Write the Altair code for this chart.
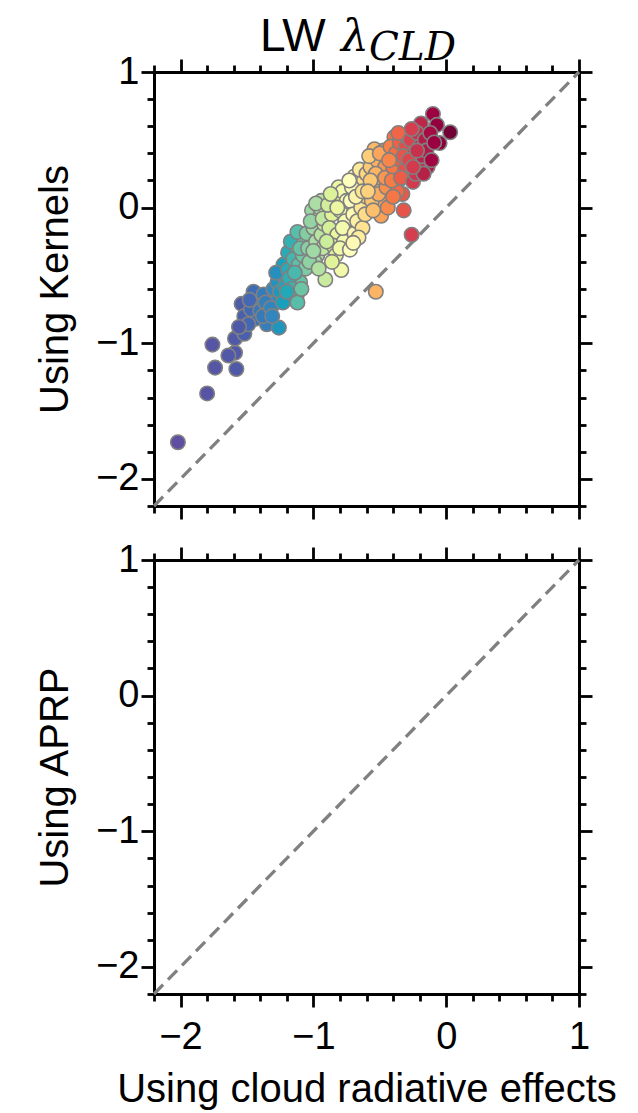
import altair as alt
import pandas as pd

# ---- data (LW lambda_CLD, top panel) ----
kern_x = [
    -2.02, -1.80, -1.74, -1.76, -1.58, -1.59, -1.64, -1.59, -1.52, -1.54, -1.52, -1.45, -1.44, -1.41, -1.47, -1.49, -1.48, -1.56,
    -1.375, -1.40, -1.35, -1.26, -1.29, -1.36, -1.38, -1.32, -1.30, -1.27, -1.225, -1.22, -1.25, -1.23, -1.28, -1.213, -1.31,
    -1.19, -1.19, -1.126, -1.12, -1.10, -1.18, -1.16, -1.15, -1.13, -1.17, -1.11, -1.08, -1.09, -1.07, -1.12, -1.06,
    -1.14, -1.20, -1.10,
    -1.05, -1.01, -1.04, -1.00, -0.98, -0.96, -0.97, -0.94, -0.95, -0.92, -0.99, -0.93, -0.91, -1.02, -0.94, -0.98,
    -1.03, -0.96, -1.00, -0.93,
    -0.81, -0.79, -0.86, -0.88, -0.84, -0.82, -0.80, -0.78, -0.76, -0.85, -0.77, -0.89, -0.83, -0.75, -0.87, -0.80,
    -0.86, -0.82, -0.78, -0.90,
    -0.69, -0.725, -0.69, -0.72, -0.70, -0.66, -0.64, -0.67, -0.62, -0.60, -0.65, -0.63, -0.71, -0.61, -0.68, -0.60,
    -0.66, -0.73, -0.63, -0.70,
    -0.54, -0.49, -0.53, -0.57, -0.55, -0.52, -0.50, -0.48, -0.56, -0.58, -0.46, -0.51, -0.47, -0.45, -0.53, -0.44, -0.57,
    -0.50, -0.55, -0.46, -0.59,
    -0.39, -0.32, -0.26, -0.42, -0.40, -0.38, -0.36, -0.35, -0.34, -0.33, -0.31, -0.30, -0.37, -0.41, -0.43, -0.29,
    -0.36, -0.32, -0.40, -0.34,
    -0.25, -0.19, -0.14, -0.27, -0.24, -0.22, -0.21, -0.20, -0.18, -0.16, -0.23, -0.28, -0.26, -0.17, -0.15,
    -0.22, -0.25,
    -0.10, -0.07, 0.03, -0.05, -0.12, -0.11, -0.09,
]
kern_y = [
    -1.73, -1.37, -1.18, -1.01, -1.19, -1.07, -1.09, -0.965, -0.93, -0.71, -0.80, -0.62, -0.82, -0.71, -0.75, -0.86, -0.68, -0.88,
    -0.64, -0.76, -0.86, -0.885, -0.70, -0.70, -0.80, -0.74, -0.60, -0.55, -0.42, -0.50, -0.62, -0.70, -0.48, -0.58, -0.80,
    -0.33, -0.456, -0.65, -0.70, -0.55, -0.52, -0.60, -0.38, -0.28, -0.25, -0.42, -0.35, -0.60, -0.25, -0.18, -0.45,
    -0.48, -0.62, -0.30,
    -0.19, -0.02, -0.30, -0.15, -0.25, -0.08, -0.35, -0.20, 0.00, -0.12, -0.40, -0.30, -0.53, -0.10, 0.05, 0.03,
    -0.40, -0.45, -0.32, -0.08,
    0.15, -0.46, -0.05, -0.15, 0.08, -0.20, -0.02, 0.12, -0.10, -0.28, -0.25, 0.02, -0.35, 0.05, 0.10, -0.30,
    -0.40, 0.00, -0.15, -0.25,
    0.23, -0.31, -0.19, 0.05, -0.05, 0.15, 0.00, -0.10, 0.20, 0.08, 0.28, -0.15, 0.15, -0.05, 0.08, 0.25,
    -0.22, 0.20, 0.12, -0.26,
    0.43, -0.06, -0.62, 0.30, 0.15, 0.35, 0.22, 0.05, 0.05, 0.38, 0.30, 0.10, 0.42, 0.15, 0.25, 0.00, 0.20,
    0.40, -0.02, 0.22, 0.12,
    0.52, -0.02, -0.20, 0.45, 0.30, 0.40, 0.20, 0.48, 0.35, 0.10, 0.28, 0.45, 0.12, 0.20, 0.35, 0.52,
    0.55, 0.38, 0.08, 0.22,
    0.19, 0.62, 0.30, 0.50, 0.40, 0.55, 0.30, 0.45, 0.38, 0.50, 0.25, 0.35, 0.58, 0.25, 0.42,
    0.42, 0.30,
    0.69, 0.61, 0.556, 0.476, 0.55, 0.35, 0.48,
]
diag_vals = [-2.2, 1.0]
axis_domain = [-2.2, 1.0]
tick_vals = [-2.2, -2.0, -1.8, -1.6, -1.4, -1.2, -1.0, -0.8, -0.6, -0.4, -0.2,
             0.0, 0.2, 0.4, 0.6, 0.8, 1.0]
# colour of the points, against their x value
color_breaks = [-2.0, -1.55, -1.3, -1.1, -0.98, -0.85, -0.72, -0.62, -0.52, -0.38, -0.26, -0.1]
color_range = ["#5e4fa2", "#4e5aa8", "#3288bd", "#66c2a5", "#abdda4", "#e6f598",
               "#ffffbf", "#fee08b", "#fdae61", "#f46d43", "#d53e4f", "#9e0142"]
panel_titles = ["Using Kernels", "Using APRP"]
x_title = "Using cloud radiative effects"
title_parts = ["LW", "λ", "CLD"]

FONT = "Liberation Sans"
MAJOR = "abs(datum.value - round(datum.value)) < 0.001"
W, H = 425, 434


def make_axis(orient, show_labels, title=None):
    is_x = orient in ("top", "bottom")
    return alt.Axis(
        orient=orient, values=tick_vals, grid=False,
        domain=True, domainColor="black", domainWidth=3,
        ticks=True, tickColor="black", tickWidth=2.8,
        tickSize={"condition": {"test": MAJOR, "value": 13}, "value": 7},
        labels=show_labels, labelFlush=False, labelOverlap=False,
        labelFont=FONT, labelFontSize=38, labelColor="black",
        labelPadding=11 if is_x else 2, format=".0f",
        labelExpr=f"{MAJOR} ? datum.label : ''",
        title=title, titleFont=FONT, titleFontSize=40,
        titleFontWeight="normal", titleColor="black",
        titlePadding=13 if is_x else 20,
    )


def sc():
    return alt.Scale(domain=axis_domain, nice=False, zero=False)


kern_df = pd.DataFrame({"x": kern_x, "y": kern_y})
diag_df = pd.DataFrame({"d": diag_vals})


def diag_line(xo, yo, xl, yl, xt=None, yt=None, opacity=1.0):
    return alt.Chart(diag_df).mark_line(
        color="#808080", strokeWidth=3.3, strokeDash=[13, 7], opacity=opacity
    ).encode(
        x=alt.X("d:Q", scale=sc(), axis=make_axis(xo, xl, xt)),
        y=alt.Y("d:Q", scale=sc(), axis=make_axis(yo, yl, yt)),
    )


pts = alt.Chart(kern_df).mark_circle(
    size=210, opacity=1, stroke="#808080", strokeWidth=1.6
).encode(
    x=alt.X("x:Q", scale=sc(), axis=make_axis("bottom", False)),
    y=alt.Y("y:Q", scale=sc(), axis=make_axis("left", True, panel_titles[0])),
    color=alt.Color("x:Q", scale=alt.Scale(domain=color_breaks, range=color_range), legend=None),
)

one = alt.Data(values=[{}])
t_lw = alt.Chart(one).mark_text(
    text=title_parts[0], font=FONT, fontSize=46, align="left", baseline="alphabetic", color="black"
).encode(x=alt.value(106), y=alt.value(-21))
t_lam = alt.Chart(one).mark_text(
    text=title_parts[1], font="DejaVu Serif", fontStyle="italic", fontSize=44,
    align="left", baseline="alphabetic", color="black"
).encode(x=alt.value(187), y=alt.value(-21))
t_cld = alt.Chart(one).mark_text(
    text=title_parts[2], font="DejaVu Serif", fontStyle="italic", fontSize=39,
    align="left", baseline="alphabetic", color="black"
).encode(x=alt.value(215), y=alt.value(-12))

top = alt.layer(
    diag_line("top", "right", False, False), pts, t_lw, t_lam, t_cld
).resolve_axis(x="independent", y="independent").properties(width=W, height=H)

bottom = alt.layer(
    diag_line("top", "right", False, False),
    diag_line("bottom", "left", True, True, x_title, panel_titles[1], opacity=0.0),
).resolve_axis(x="independent", y="independent").properties(width=W, height=H)

chart = alt.vconcat(top, bottom, spacing=16).configure_view(stroke=None).properties(
    padding={"left": 35, "top": 14, "right": 5, "bottom": 3}
)

chart.save("out.html", embed_options={"renderer": "svg", "actions": False})
